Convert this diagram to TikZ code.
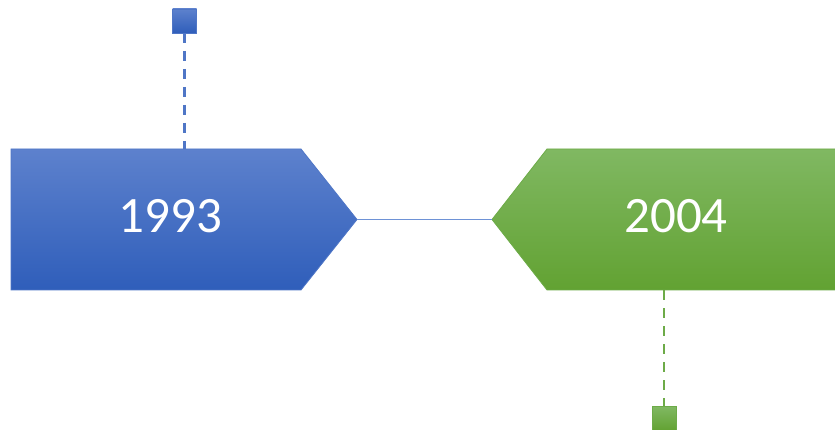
\documentclass[tikz,border=0pt]{standalone}
\usepackage{fontspec}
\setmainfont{Carlito}
\definecolor{blueTop}{HTML}{5D81CD}
\definecolor{blueBot}{HTML}{2F5EBA}
\definecolor{blueEdge}{HTML}{4F76C6}
\definecolor{greenTop}{HTML}{80B862}
\definecolor{greenBot}{HTML}{62A232}
\definecolor{greenEdge}{HTML}{6DAB48}
\definecolor{linkBlue}{HTML}{6E92D6}
\tikzset{
  bluefill/.style={top color=blueTop, bottom color=blueBot, draw=blueEdge, line width=0.8pt},
  greenfill/.style={top color=greenTop, bottom color=greenBot, draw=greenEdge, line width=0.8pt},
  marker/.style={minimum size=24pt, inner sep=0pt, outer sep=0pt},
  yearlabel/.style={text=white, font=\fontsize{51}{51}\selectfont, inner sep=0pt},
  stem/.style={line width=2.4pt, dash pattern=on 10pt off 8pt},
  link/.style={draw=linkBlue, line width=1.6pt}
}
\begin{document}
\begin{tikzpicture}[x=1pt,y=-1pt]
  \useasboundingbox (0,0) rectangle (835,430);

  % arrow-shaped year boxes
  \path[bluefill] (11,149) -- (301,149) -- (357,219.5) -- (301,290) -- (11,290) -- cycle;
  \path[greenfill] (492,219.5) -- (547,149) -- (837,149) -- (837,290) -- (547,290) -- cycle;

  \coordinate (blueTip) at (357,219.5);
  \coordinate (greenTip) at (492,219.5);
  \coordinate (blueTop) at (184.5,149);
  \coordinate (greenBottom) at (664,290);

  \node[yearlabel] (y1993) at (170.5,216.5) {1993};
  \node[yearlabel] (y2004) at (676,216.5) {2004};

  % markers
  \node[marker, bluefill, line width=0.4pt] (sqA) at (184.5,21) {};
  \node[marker, greenfill, line width=0.4pt] (sqB) at (664,418.5) {};

  % connectors
  \draw[link] (blueTip) -- (greenTip);
  \draw[stem, draw=blueEdge] (sqA.south) -- (blueTop);
  \draw[stem, draw=greenEdge] (greenBottom) -- (sqB.north);
\end{tikzpicture}
\end{document}
